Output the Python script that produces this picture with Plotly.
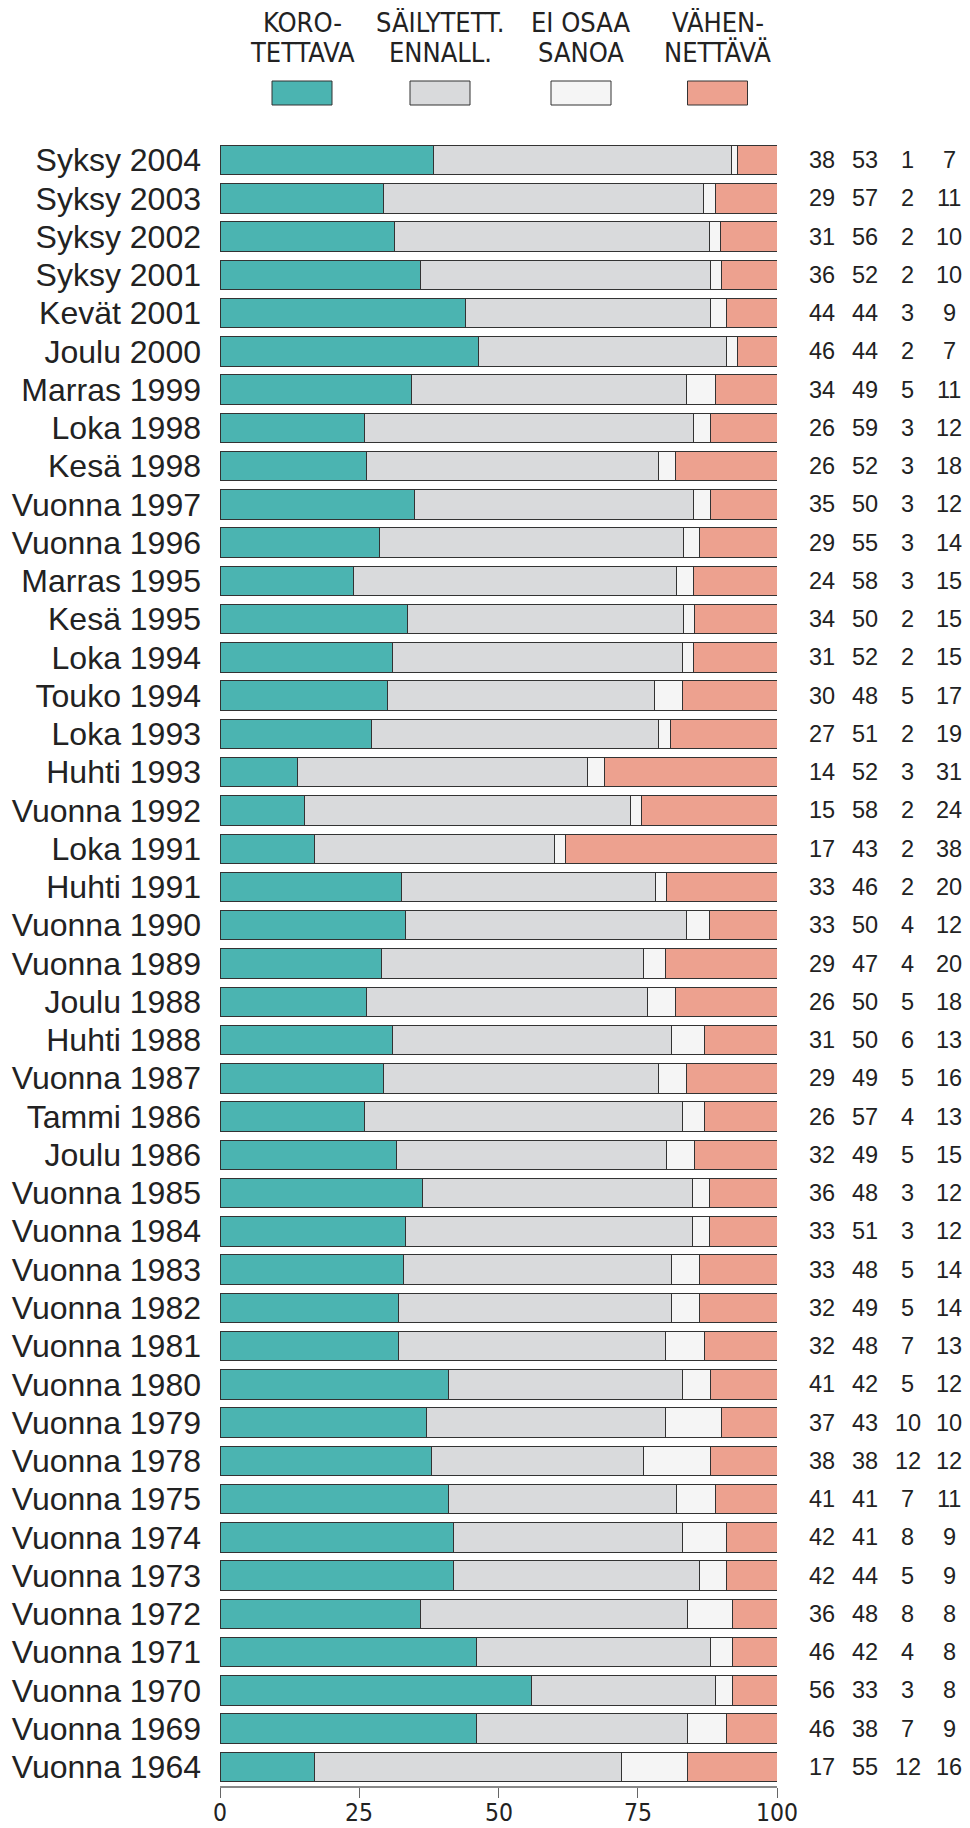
import plotly.graph_objects as go

categories = [
    "Syksy 2004", "Syksy 2003", "Syksy 2002", "Syksy 2001", "Kevät 2001",
    "Joulu 2000", "Marras 1999", "Loka 1998", "Kesä 1998", "Vuonna 1997",
    "Vuonna 1996", "Marras 1995", "Kesä 1995", "Loka 1994", "Touko 1994",
    "Loka 1993", "Huhti 1993", "Vuonna 1992", "Loka 1991", "Huhti 1991",
    "Vuonna 1990", "Vuonna 1989", "Joulu 1988", "Huhti 1988", "Vuonna 1987",
    "Tammi 1986", "Joulu 1986", "Vuonna 1985", "Vuonna 1984", "Vuonna 1983",
    "Vuonna 1982", "Vuonna 1981", "Vuonna 1980", "Vuonna 1979", "Vuonna 1978",
    "Vuonna 1975", "Vuonna 1974", "Vuonna 1973", "Vuonna 1972", "Vuonna 1971",
    "Vuonna 1970", "Vuonna 1969", "Vuonna 1964",
]
korotettava = [38, 29, 31, 36, 44, 46, 34, 26, 26, 35, 29, 24, 34, 31, 30, 27, 14, 15, 17, 33,
               33, 29, 26, 31, 29, 26, 32, 36, 33, 33, 32, 32, 41, 37, 38, 41, 42, 42, 36, 46,
               56, 46, 17]
sailytett = [53, 57, 56, 52, 44, 44, 49, 59, 52, 50, 55, 58, 50, 52, 48, 51, 52, 58, 43, 46,
             50, 47, 50, 50, 49, 57, 49, 48, 51, 48, 49, 48, 42, 43, 38, 41, 41, 44, 48, 42,
             33, 38, 55]
ei_osaa = [1, 2, 2, 2, 3, 2, 5, 3, 3, 3, 3, 3, 2, 2, 5, 2, 3, 2, 2, 2,
           4, 4, 5, 6, 5, 4, 5, 3, 3, 5, 5, 7, 5, 10, 12, 7, 8, 5, 8, 4,
           3, 7, 12]
vahennettava = [7, 11, 10, 10, 9, 7, 11, 12, 18, 12, 14, 15, 15, 15, 17, 19, 31, 24, 38, 20,
                12, 20, 18, 13, 16, 13, 15, 12, 12, 14, 14, 13, 12, 10, 12, 11, 9, 9, 8, 8,
                8, 9, 16]
legend_lines = [("KORO-", "TETTAVA"), ("SÄILYTETT.", "ENNALL."), ("EI OSAA", "SANOA"), ("VÄHEN-", "NETTÄVÄ")]
x_ticks = [0, 25, 50, 75, 100]

series = [korotettava, sailytett, ei_osaa, vahennettava]
colors = ["#4BB4B1", "#D9DADC", "#F5F5F5", "#EDA18F"]

# page body has an 8px margin; figure is sized/positioned to compensate
OFF = 8
W, H = 970 - OFF, 1828 - OFF
L, T = 220 - OFF, 141 - OFF
R = W - (777 - OFF)
B = H - (1786 - OFF)
pw, ph = W - L - R, H - T - B

def px_y(y):
    return (H - B - (y - OFF)) / ph

def px_x(x):
    return ((x - OFF) - L) / pw

narrow = "Liberation Sans Narrow, DejaVu Sans Condensed, Arial Narrow, sans-serif"
regular = "Liberation Sans, Arial, sans-serif"

fig = go.Figure()
for vals, col, lab in zip(series, colors, legend_lines):
    fig.add_trace(go.Bar(
        y=categories, x=vals, orientation="h", name=" ".join(lab),
        marker=dict(color=col, line=dict(color="#333333", width=1)),
        showlegend=False,
    ))

ann = []
col_x = [821.7, 865, 907.5, 949]
for ci, vals in enumerate(series):
    for cat, v in zip(categories, vals):
        ann.append(dict(x=px_x(col_x[ci]), xref="paper", y=cat, yref="y",
                        text=str(v), showarrow=False, xanchor="center", yanchor="middle",
                        font=dict(family=regular, size=23.5, color="#222")))

# x tick labels placed just below the axis
for t in x_ticks:
    ann.append(dict(x=t, xref="x", y=px_y(1812), yref="paper", text=str(t),
                    showarrow=False, xanchor="center", yanchor="middle",
                    font=dict(family=narrow, size=24.5, color="#222")))

shapes = []
sw_cx = [302, 440, 581, 717.5]
for i, (lab, col) in enumerate(zip(legend_lines, colors)):
    cx = sw_cx[i]
    shapes.append(dict(type="rect", xref="paper", yref="paper",
                       x0=px_x(cx - 30), x1=px_x(cx + 30), y0=px_y(105), y1=px_y(81),
                       fillcolor=col, line=dict(color="#333333", width=1)))
    for j, line in enumerate(lab):
        ann.append(dict(x=px_x(cx), xref="paper", y=px_y(22.5 + 29.5 * j), yref="paper",
                        text=line, showarrow=False, xanchor="center", yanchor="middle",
                        font=dict(family=narrow, size=27, color="#222")))

fig.update_layout(
    width=W, height=H, barmode="stack", barnorm="percent", bargap=0.23,
    margin=dict(l=L, r=R, t=T, b=B, pad=0, autoexpand=False),
    paper_bgcolor="white", plot_bgcolor="white",
    annotations=ann, shapes=shapes,
    xaxis=dict(range=[0, 100], tickvals=x_ticks, showticklabels=False,
               automargin=False,
               showgrid=False, zeroline=False, showline=True, linecolor="#888", linewidth=1.5,
               ticks="outside", ticklen=10, tickcolor="#666", tickwidth=1.2,
               fixedrange=True),
    yaxis=dict(showgrid=False, zeroline=False, showline=False, automargin=False,
               tickmode="array", tickvals=categories, ticktext=categories,
               ticks="", ticklabelstandoff=18,
               tickfont=dict(family=regular, size=32, color="#222")),
)
fig.update_yaxes(autorange=False, range=[len(categories) - 0.5, -0.5])
fig.write_html("out.html")
